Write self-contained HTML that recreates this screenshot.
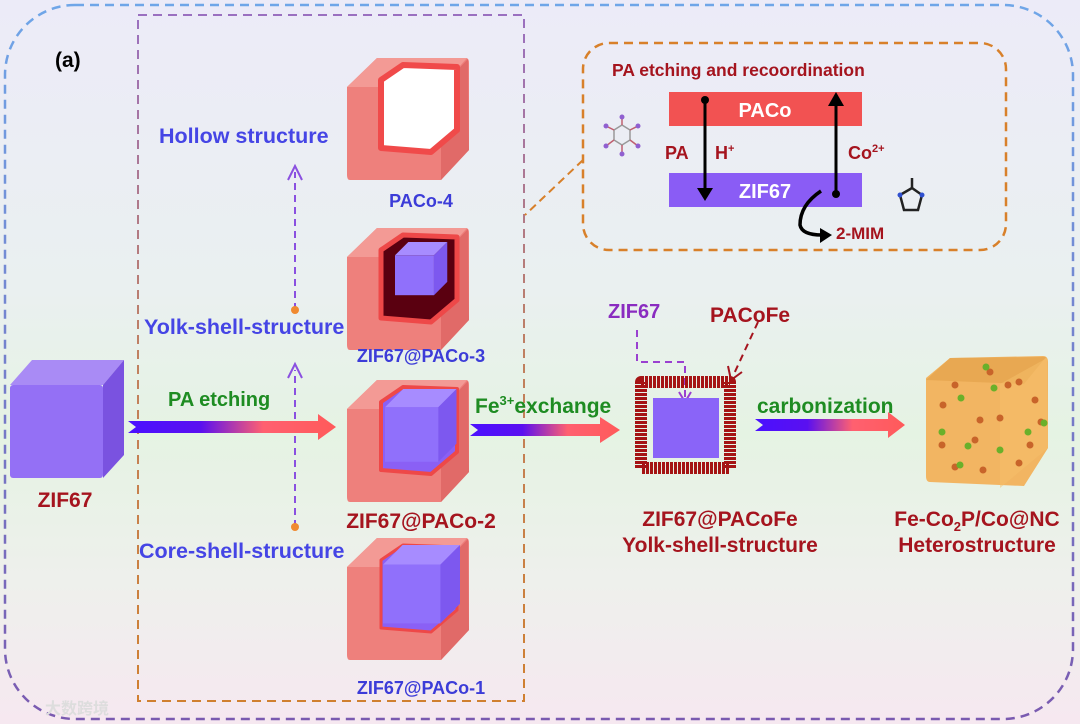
<!DOCTYPE html>
<html><head><meta charset="utf-8"><style>
html,body{margin:0;padding:0;width:1080px;height:724px;overflow:hidden;background:#fff}
svg text{font-family:"Liberation Sans","Noto Sans CJK SC",sans-serif;font-weight:bold}
</style></head><body>
<svg width="1080" height="724" viewBox="0 0 1080 724" xmlns="http://www.w3.org/2000/svg">
<defs>
<linearGradient id="bg" x1="0" y1="0" x2="0" y2="1">
<stop offset="0" stop-color="#ecebf8"/><stop offset="0.4" stop-color="#eaf0f0"/><stop offset="0.6" stop-color="#e5f3e3"/><stop offset="0.8" stop-color="#eef0ec"/><stop offset="1" stop-color="#f6e8f0"/></linearGradient>
<linearGradient id="ob" x1="0" y1="0" x2="0" y2="1"><stop offset="0" stop-color="#6fa6e8"/><stop offset="1" stop-color="#7a5ab0"/></linearGradient>
<linearGradient id="ib" x1="0" y1="0" x2="0" y2="1"><stop offset="0" stop-color="#9a70c0"/><stop offset="0.5" stop-color="#c08060"/><stop offset="1" stop-color="#d08030"/></linearGradient>
<linearGradient id="ar" x1="0" y1="0" x2="1" y2="0"><stop offset="0" stop-color="#4a10ff"/><stop offset="0.35" stop-color="#5a10f0"/><stop offset="0.65" stop-color="#ff6070"/><stop offset="1" stop-color="#ff5a5a"/></linearGradient>
<g id="pc">
<path d="M2,32 L32,3 L121,3 Q124,3 124,8 L124,95 L96,125 L5,125 Q2,125 2,120 Z" fill="#ee807c"/>
<polygon points="2,32 32,3 122,3 96,32" fill="#f39a95"/>
<polygon points="96,32 123,4 124,95 96,125" fill="#e16a68"/>
</g>
<g id="pu">
<polygon points="0,14 14,0 55,0 41,14" fill="#a78cff"/>
<polygon points="41,14 55,0 55,42 41,56" fill="#7d58ef"/>
<rect x="0" y="14" width="41" height="42" fill="#9070fb"/>
</g>
</defs>
<rect width="1080" height="724" fill="url(#bg)"/>
<rect x="5" y="5" width="1068" height="714" rx="70" fill="none" stroke="url(#ob)" stroke-width="2.5" stroke-dasharray="9,6"/>
<rect x="138" y="15" width="386" height="686" fill="none" stroke="url(#ib)" stroke-width="2" stroke-dasharray="9,6"/>
<text x="55" y="67" font-size="21" fill="#000">(a)</text>

<!-- ZIF67 cube -->
<polygon points="10,385 32,360 124,360 103,385" fill="#a98bf5"/>
<polygon points="103,385 124,360 124,455 103,478" fill="#7a52e0"/>
<rect x="10" y="385" width="93" height="93" rx="3" fill="#9470f5"/>
<text x="65" y="507" font-size="21" fill="#a5141e" text-anchor="middle">ZIF67</text>

<!-- PACo-4 -->
<g transform="translate(345,55)"><use href="#pc"/>
<polygon points="36,25 58,10 112,12 112,75 86,97 36,93" fill="#fff" stroke="#f04a4a" stroke-width="6" stroke-linejoin="round"/></g>
<text x="421" y="207" font-size="18" fill="#3c3cd8" text-anchor="middle">PACo-4</text>
<!-- PACo-3 -->
<g transform="translate(345,225)"><use href="#pc"/>
<polygon points="36,25 58,10 112,12 112,75 86,97 36,93" fill="#5a0010" stroke="#ee4848" stroke-width="5" stroke-linejoin="round"/>
<g transform="translate(50,17) scale(0.95)"><use href="#pu"/></g></g>
<text x="421" y="362" font-size="18" fill="#3c3cd8" text-anchor="middle">ZIF67@PACo-3</text>
<!-- PACo-2 -->
<g transform="translate(345,377)"><use href="#pc"/>
<polygon points="36,25 58,10 112,12 112,75 86,97 36,93" fill="#8a60f5" stroke="#ee4848" stroke-width="4" stroke-linejoin="round"/>
<g transform="translate(40,12) scale(1.3)"><use href="#pu"/></g></g>
<text x="421" y="528" font-size="21" fill="#a5141e" text-anchor="middle">ZIF67@PACo-2</text>
<!-- PACo-1 -->
<g transform="translate(345,535)"><use href="#pc"/>
<polygon points="36,25 58,10 112,12 112,75 86,97 36,93" fill="#8a60f5" stroke="#ee4848" stroke-width="3" stroke-linejoin="round"/>
<g transform="translate(38,10) scale(1.4)"><use href="#pu"/></g></g>
<text x="421" y="694" font-size="18" fill="#3c3cd8" text-anchor="middle">ZIF67@PACo-1</text>

<!-- labels left -->
<text x="159" y="143" font-size="21.5" fill="#4545e5">Hollow structure</text>
<text x="144" y="334" font-size="21.5" fill="#4545e5">Yolk-shell-structure</text>
<text x="139" y="558" font-size="21.5" fill="#4545e5">Core-shell-structure</text>
<line x1="295" y1="310" x2="295" y2="172" stroke="#8a50e0" stroke-width="2" stroke-dasharray="7,5"/>
<polyline points="288,180 295,166 302,180" fill="none" stroke="#8a50e0" stroke-width="2"/>
<circle cx="295" cy="310" r="4" fill="#f08a30"/>
<line x1="295" y1="527" x2="295" y2="370" stroke="#8a50e0" stroke-width="2" stroke-dasharray="7,5"/>
<polyline points="288,378 295,364 302,378" fill="none" stroke="#8a50e0" stroke-width="2"/>
<circle cx="295" cy="527" r="4" fill="#f08a30"/>

<!-- arrows -->
<polygon points="128,421 318,421 318,414 336,427 318,440 318,433 128,433 136,427" fill="url(#ar)"/>
<text x="168" y="406" font-size="20" fill="#1e8c22">PA  etching</text>
<polygon points="470,424 600,424 600,417 620,430 600,443 600,436 470,436 478,430" fill="url(#ar)"/>
<text x="475" y="413" font-size="21" fill="#1e8c22">Fe<tspan font-size="13" dy="-8">3+</tspan><tspan dy="8">exchange</tspan></text>
<polygon points="755,419 888,419 888,412 905,425 888,438 888,431 755,431 763,425" fill="url(#ar)"/>
<text x="757" y="413" font-size="21" fill="#1e8c22">carbonization</text>

<!-- top right box -->
<line x1="583" y1="160" x2="525" y2="215" stroke="#d8802a" stroke-width="2" stroke-dasharray="8,5"/>
<rect x="583" y="43" width="423" height="207" rx="26" fill="none" stroke="#d8802a" stroke-width="2.5" stroke-dasharray="9,6"/>
<text x="612" y="76" font-size="17.5" fill="#a5141e">PA etching and recoordination</text>
<rect x="669" y="92" width="193" height="34" fill="#f25252"/>
<text x="765" y="117" font-size="20" fill="#fff" text-anchor="middle">PACo</text>
<rect x="669" y="173" width="193" height="34" fill="#8a5cf5"/>
<text x="765" y="198" font-size="20" fill="#fff" text-anchor="middle">ZIF67</text>
<line x1="705" y1="100" x2="705" y2="190" stroke="#000" stroke-width="3"/>
<circle cx="705" cy="100" r="4" fill="#000"/>
<polygon points="697,188 713,188 705,201" fill="#000"/>
<line x1="836" y1="194" x2="836" y2="105" stroke="#000" stroke-width="3"/>
<circle cx="836" cy="194" r="4" fill="#000"/>
<polygon points="828,106 844,106 836,92" fill="#000"/>
<text x="665" y="159" font-size="18" fill="#a5141e">PA</text>
<text x="715" y="159" font-size="18" fill="#a5141e">H<tspan font-size="11" dy="-7">+</tspan></text>
<text x="848" y="159" font-size="18" fill="#a5141e">Co<tspan font-size="11" dy="-7">2+</tspan></text>
<path d="M821,191 Q800,205 800,225 Q802,235 822,235" fill="none" stroke="#000" stroke-width="3.5"/>
<polygon points="820,228 832,235 820,243" fill="#000"/>
<text x="836" y="239" font-size="17" fill="#a5141e">2-MIM</text>
<!-- molecules -->
<g stroke="#c06070" stroke-width="1.5" fill="none"><polygon points="614,130 622,125 630,130 630,140 622,145 614,140" stroke="#999"/>
<line x1="622" y1="125" x2="622" y2="117"/><line x1="630" y1="130" x2="638" y2="126"/><line x1="630" y1="140" x2="638" y2="146"/><line x1="622" y1="145" x2="622" y2="154"/><line x1="614" y1="140" x2="606" y2="146"/><line x1="614" y1="130" x2="606" y2="126"/></g>
<g fill="#9060d0"><circle cx="622" cy="117" r="2.5"/><circle cx="638" cy="126" r="2.5"/><circle cx="638" cy="146" r="2.5"/><circle cx="622" cy="154" r="2.5"/><circle cx="606" cy="146" r="2.5"/><circle cx="606" cy="126" r="2.5"/></g>
<g stroke="#222" stroke-width="2.5" fill="none"><polygon points="900,195 912,188 922,195 918,210 904,210"/><line x1="912" y1="188" x2="912" y2="178"/></g>
<circle cx="900" cy="195" r="2.5" fill="#3050d0"/><circle cx="922" cy="195" r="2.5" fill="#3050d0"/>

<!-- yolk-shell -->
<text x="608" y="318" font-size="20" fill="#8a2cc0">ZIF67</text>
<text x="710" y="322" font-size="21" fill="#a5141e">PACoFe</text>
<polyline points="637,330 637,362 685,362 685,398" fill="none" stroke="#9a40d0" stroke-width="2" stroke-dasharray="7,5"/>
<polyline points="679,392 685,402 691,392" fill="none" stroke="#9a40d0" stroke-width="2"/>
<line x1="758" y1="322" x2="733" y2="376" stroke="#a5141e" stroke-width="2" stroke-dasharray="7,5"/>
<polyline points="728,366 731,380 742,372" fill="none" stroke="#a5141e" stroke-width="2"/>
<rect x="641" y="382" width="89" height="86" fill="none" stroke="#a51414" stroke-width="12" stroke-dasharray="3,1" stroke-linejoin="round"/>
<rect x="653" y="398" width="66" height="60" fill="#8a64f8"/>
<text x="720" y="526" font-size="21" fill="#a5141e" text-anchor="middle">ZIF67@PACoFe</text>
<text x="720" y="552" font-size="21" fill="#a5141e" text-anchor="middle">Yolk-shell-structure</text>

<!-- final cube -->
<path d="M926,378 L950,358 L1043,356 Q1048,356 1048,362 L1048,448 L1024,486 L930,482 Q926,482 926,476 Z" fill="#f2b562"/>
<polygon points="926,380 950,358 1046,357 1024,384" fill="#e8a852"/>
<polygon points="1000,384 1047,358 1048,448 1000,488" fill="#f6c06a" opacity="0.5"/>
<g fill="#c8642a"><circle cx="955" cy="385" r="3.5"/><circle cx="980" cy="420" r="3.5"/><circle cx="1008" cy="385" r="3.5"/><circle cx="1019" cy="382" r="3.5"/><circle cx="942" cy="445" r="3.5"/><circle cx="975" cy="440" r="3.5"/><circle cx="1030" cy="445" r="3.5"/><circle cx="955" cy="467" r="3.5"/><circle cx="983" cy="470" r="3.5"/><circle cx="1019" cy="463" r="3.5"/><circle cx="1035" cy="400" r="3.5"/><circle cx="1000" cy="418" r="3.5"/><circle cx="1041" cy="422" r="3.5"/><circle cx="990" cy="372" r="3.5"/><circle cx="943" cy="405" r="3.5"/></g>
<g fill="#6ab02a"><circle cx="986" cy="367" r="3.5"/><circle cx="961" cy="398" r="3.5"/><circle cx="994" cy="388" r="3.5"/><circle cx="942" cy="432" r="3.5"/><circle cx="968" cy="446" r="3.5"/><circle cx="1000" cy="450" r="3.5"/><circle cx="1028" cy="432" r="3.5"/><circle cx="960" cy="465" r="3.5"/><circle cx="1044" cy="423" r="3.5"/></g>
<text x="977" y="526" font-size="21" fill="#a5141e" text-anchor="middle">Fe-Co<tspan font-size="13" dy="5">2</tspan><tspan dy="-5">P/Co@NC</tspan></text>
<text x="977" y="552" font-size="21" fill="#a5141e" text-anchor="middle">Heterostructure</text>
<text x="45" y="714" font-size="16" fill="#ddd" font-weight="normal">大数跨境</text>
</svg>
</body></html>
